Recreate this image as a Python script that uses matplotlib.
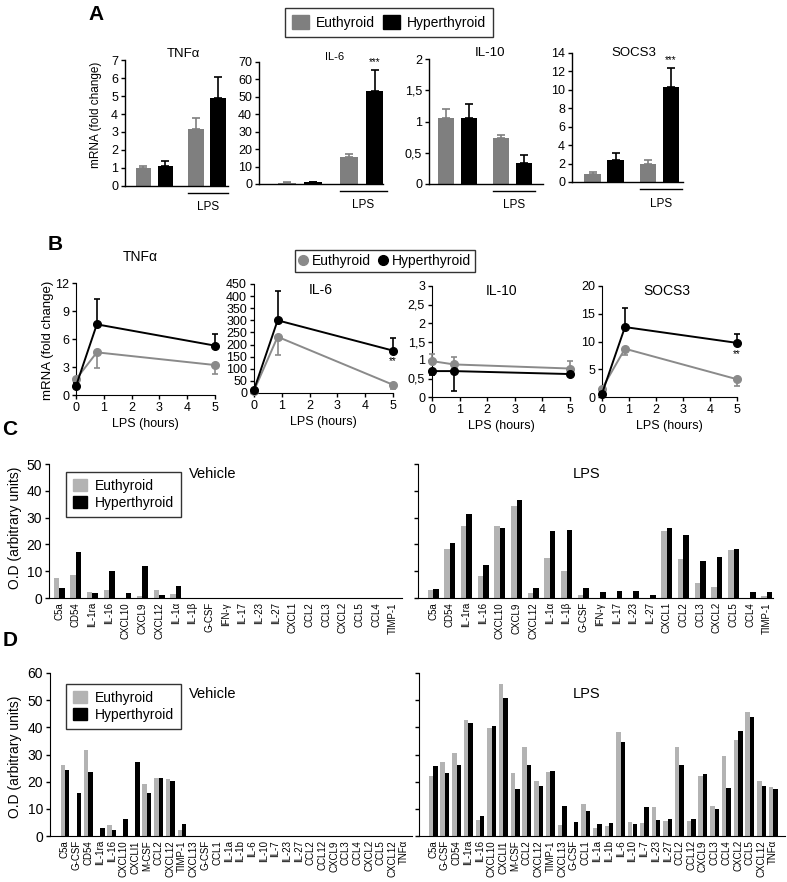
import numpy as np
import matplotlib
matplotlib.use("Agg")
import matplotlib.pyplot as plt
from matplotlib.patches import Patch
from matplotlib.lines import Line2D
from matplotlib.ticker import FuncFormatter
from matplotlib.transforms import blended_transform_factory

plt.rcParams['font.family'] = ['Liberation Sans', 'DejaVu Sans']

W, H = 787, 882
EU_A = "#7f7f7f"
EU_B = "#8a8a8a"
EU_C = "#b3b3b3"
HY = "black"

# ---------------- panel A: qPCR, [vehicle, LPS]
a_genes = ["TNFα", "IL-6", "IL-10", "SOCS3"]
a_eu_mean = [[0.98, 3.19], [0.8, 15.5], [1.06, 0.74], [0.9, 2.0]]
a_eu_err = [[0.13, 0.57], [0.3, 1.9], [0.14, 0.04], [0.23, 0.36]]
a_hy_mean = [[1.11, 4.9], [1.0, 53.3], [1.05, 0.34], [2.36, 10.3]]
a_hy_err = [[0.3, 1.14], [0.3, 12.3], [0.23, 0.13], [0.8, 2.06]]
a_stars = ["", "***", "", "***"]
a_ymax = [7, 70, 2, 14]
a_ystep = [1, 10, 0.5, 2]

# ---------------- panel B: time course after LPS (hours)
b_genes = ["TNFα", "IL-6", "IL-10", "SOCS3"]
b_time = [[0, 0.75, 5], [0, 0.85, 5], [0, 0.8, 5], [0, 0.85, 5]]
b_eu_mean = [[1.68, 4.57, 3.21], [10, 232, 34], [0.97, 0.88, 0.77], [1.5, 8.7, 3.2]]
b_eu_lo = [[0.1, 1.71, 0.96], [5, 75, 16], [0, 0, 0], [0.3, 1.2, 1.2]]
b_eu_hi = [[0, 0, 0], [0, 0, 0], [0.2, 0.2, 0.19], [0, 0, 0]]
b_hy_mean = [[0.96, 7.57, 5.29], [13, 300, 175], [0.70, 0.70, 0.62], [0.6, 12.6, 9.75]]
b_hy_lo = [[0, 0, 0], [0, 0, 0], [0.11, 0.54, 0.05], [0, 0, 0]]
b_hy_hi = [[0.3, 2.7, 1.2], [5, 120, 51], [0, 0, 0], [0.3, 3.4, 1.65]]
b_stars = ["", "**", "", "**"]
b_ymax = [12, 450, 3, 20]
b_ystep = [3, 50, 0.5, 5]

# ---------------- panel C: cytokine array
c_labels = ["C5a", "CD54", "IL-1ra", "IL-16", "CXCL10", "CXCL9", "CXCL12", "IL-1α",
            "IL-1β", "G-CSF", "IFN-γ", "IL-17", "IL-23", "IL-27", "CXCL1", "CCL2",
            "CCL3", "CXCL2", "CCL5", "CCL4", "TIMP-1"]
c_veh_eu = [7.5, 8.5, 2.2, 3.0, 0, 0.8, 3.0, 1.5, 0, 0, 0, 0, 0, 0, 0, 0, 0, 0, 0, 0, 0]
c_veh_hy = [3.7, 17.2, 1.8, 10.1, 1.8, 11.8, 1.0, 4.4, 0, 0, 0, 0, 0, 0, 0, 0, 0, 0, 0, 0, 0]
c_lps_eu = [2.9, 18.3, 27.0, 8.1, 26.8, 34.4, 1.9, 14.9, 10.1, 1.0, 0, 0, 0, 0,
            25.0, 14.4, 5.6, 4.1, 17.9, 0, 0.9]
c_lps_hy = [3.3, 20.6, 31.5, 12.5, 26.3, 36.5, 3.9, 25.0, 25.5, 3.75, 2.1, 2.6, 2.6, 1.25,
            26.3, 23.5, 13.9, 15.4, 18.4, 2.1, 2.4]

# ---------------- panel D: cytokine array
d_labels = ["C5a", "G-CSF", "CD54", "IL-1ra", "IL-16", "CXCL10", "CXCLl1", "M-CSF", "CCL2",
            "CXCL12", "TIMP-1", "CXCL13", "G-CSF", "CCL1", "IL-1a", "IL-1b", "IL-6", "IL-10",
            "IL-7", "IL-23", "IL-27", "CCL2", "CCL12", "CXCL9", "CCL3", "CCL4", "CXCL2",
            "CCL5", "CXCL12", "TNFα"]
d_veh_eu = [26.0, 0, 31.8, 0, 4.0, 0, 0, 19.0, 21.5, 21.1, 2.2] + [0] * 19
d_veh_hy = [24.2, 15.8, 23.4, 2.9, 2.2, 6.2, 27.2, 15.8, 21.5, 20.1, 4.6] + [0] * 19
d_lps_eu = [22.1, 27.4, 30.7, 42.8, 5.8, 39.8, 56.0, 23.2, 32.7, 20.2, 23.7, 3.9, 0, 11.6,
            2.8, 3.6, 38.4, 5.1, 4.7, 10.7, 5.6, 32.7, 5.4, 22.1, 11.2, 29.6, 35.3, 45.6,
            20.2, 17.9]
d_lps_hy = [25.6, 23.2, 26.0, 41.5, 7.4, 40.6, 50.9, 17.4, 26.0, 18.3, 24.1, 11.2, 5.2, 9.1,
            4.3, 4.7, 34.7, 4.6, 10.5, 5.9, 6.3, 26.3, 6.3, 22.8, 9.8, 17.7, 38.5, 43.8,
            18.3, 17.3]

fig = plt.figure(figsize=(W / 100, H / 100), dpi=100)


def px_axes(l, t, r, b):
    return fig.add_axes([l / W, 1 - b / H, (r - l) / W, (b - t) / H])


def ftext(x, y, s, **kw):
    fig.text(x / W, 1 - y / H, s, **kw)


comma = FuncFormatter(lambda v, p: f"{v:g}".replace(".", ","))

# ================= A =================
a_boxes = [(125, 60, 228, 186), (259, 62, 383, 184), (429, 59, 543, 184), (572, 53, 683, 182)]
a_xlims = [(-0.84, 3.85), (-1.08, 3.71), (-0.74, 4.23), (-0.89, 3.92)]
a_title_xy = [(183, 54), (335, 57), (490, 53), (634, 53)]
a_title_fs = [9.5, 8, 9.5, 9.5]
a_pos = [0, 1, 2.4, 3.4]
bw = 0.72
for i, g in enumerate(a_genes):
    ax = px_axes(*a_boxes[i])
    means = [a_eu_mean[i][0], a_hy_mean[i][0], a_eu_mean[i][1], a_hy_mean[i][1]]
    errs = [a_eu_err[i][0], a_hy_err[i][0], a_eu_err[i][1], a_hy_err[i][1]]
    cols = [EU_A, HY, EU_A, HY]
    ax.bar(a_pos, means, bw, color=cols)
    for x, m, e, c in zip(a_pos, means, errs, cols):
        ax.errorbar(x, m, yerr=[[0], [e]], fmt='none', ecolor=c, capsize=3, elinewidth=1.2,
                    capthick=1.2)
    if a_stars[i]:
        ax.text(a_pos[3], a_hy_mean[i][1] + a_hy_err[i][1] + a_ymax[i] * 0.02, a_stars[i],
                ha='center', va='bottom', fontsize=7)
    ax.set_xlim(*a_xlims[i])
    ax.set_ylim(0, a_ymax[i])
    ax.set_yticks(np.arange(0, a_ymax[i] + a_ystep[i] / 2, a_ystep[i]))
    ax.yaxis.set_major_formatter(comma)
    ax.set_xticks([])
    for s in ['top', 'right']:
        ax.spines[s].set_visible(False)
    ax.spines['left'].set_linewidth(1.0)
    ax.spines['bottom'].set_linewidth(1.0)
    ax.tick_params(axis='y', labelsize=9, length=3, width=1, pad=2)
    tr = blended_transform_factory(ax.transData, ax.transAxes)
    ax.plot([a_pos[2] - bw / 2, a_pos[3] + bw / 2 + 0.1], [-0.055, -0.055], color='black',
            lw=1, transform=tr, clip_on=False)
    ax.text((a_pos[2] + a_pos[3]) / 2 + 0.05, -0.17, "LPS", transform=tr, ha='center',
            va='center', fontsize=8.5)
    ftext(*a_title_xy[i], g, ha='center', va='center', fontsize=a_title_fs[i])

ftext(96, 115, "mRNA (fold change)", rotation=90, ha='center', va='center', fontsize=8.5)
ftext(96, 14, "A", ha='center', va='center', fontsize=15, fontweight='bold')
legA = fig.legend(handles=[Patch(color=EU_A, label="Euthyroid"), Patch(color=HY, label="Hyperthyroid")],
                  loc='upper left', bbox_to_anchor=(278 / W, 1 - 1 / H), ncol=2, fontsize=10,
                  frameon=True, fancybox=False, edgecolor='black', handlelength=1.2,
                  handleheight=1.2, handletextpad=0.5, columnspacing=0.6, borderpad=0.5)
legA.get_frame().set_linewidth(1.0)

# ================= B =================
b_boxes = [(76, 283, 215, 395), (254, 284, 393, 393), (432, 286, 570, 397), (602, 286, 737, 397)]
b_title_xy = [(140, 257), (321, 290), (502, 291), (667, 291)]
for i, g in enumerate(b_genes):
    ax = px_axes(*b_boxes[i])
    t = b_time[i]
    ax.errorbar(t, b_eu_mean[i], yerr=[b_eu_lo[i], b_eu_hi[i]], color=EU_B, marker='o',
                markersize=5.5, lw=1.4, capsize=2.5, elinewidth=1.2, capthick=1.2,
                clip_on=False, zorder=3)
    ax.errorbar(t, b_hy_mean[i], yerr=[b_hy_lo[i], b_hy_hi[i]], color=HY, marker='o',
                markersize=5.5, lw=1.4, capsize=2.5, elinewidth=1.2, capthick=1.2,
                clip_on=False, zorder=4)
    if b_stars[i]:
        ax.text(t[2], b_hy_mean[i][2] - b_ymax[i] * 0.1, b_stars[i], ha='center', va='center',
                fontsize=7)
    ax.set_xlim(0, 5)
    ax.set_ylim(0, b_ymax[i])
    ax.set_xticks(range(6))
    ax.set_yticks(np.arange(0, b_ymax[i] + b_ystep[i] / 2, b_ystep[i]))
    ax.yaxis.set_major_formatter(comma)
    for s in ['top', 'right']:
        ax.spines[s].set_visible(False)
    ax.tick_params(labelsize=9, length=3, width=1, pad=2)
    ax.set_xlabel("LPS (hours)", fontsize=9, labelpad=3)
    ftext(*b_title_xy[i], g, ha='center', va='center', fontsize=10)

ftext(48, 340, "mRNA (fold change)", rotation=90, ha='center', va='center', fontsize=9.5)
ftext(55, 245, "B", ha='center', va='center', fontsize=15, fontweight='bold')
legB = fig.legend(handles=[Line2D([], [], marker='o', ls='none', color=EU_B, markersize=7, label="Euthyroid"),
                           Line2D([], [], marker='o', ls='none', color=HY, markersize=7, label="Hyperthyroid")],
                  loc='upper left', bbox_to_anchor=(288 / W, 1 - 243 / H), ncol=2, fontsize=10,
                  frameon=True, fancybox=False, edgecolor='black', handlelength=0.6,
                  handletextpad=0.3, columnspacing=0.6, borderpad=0.3)
legB.get_frame().set_linewidth(1.0)


# ================= C & D =================
def array_panel(box, xlim, labels, eu, hy, ymax, width, show_labels):
    ax = px_axes(*box)
    x = np.arange(len(labels))
    ax.bar(x - width / 2, eu, width, color=EU_C)
    ax.bar(x + width / 2, hy, width, color=HY)
    ax.set_xlim(*xlim)
    ax.set_ylim(0, ymax)
    ax.set_xticks(x)
    ax.set_xticklabels(labels, rotation=90, fontsize=7)
    ax.set_yticks(np.arange(0, ymax + 1, 10))
    if not show_labels:
        ax.set_yticklabels([])
    for s in ['top', 'right']:
        ax.spines[s].set_visible(False)
    ax.tick_params(axis='x', length=0, pad=3)
    ax.tick_params(axis='y', labelsize=10, length=3, width=1, pad=2)
    return ax


axC1 = array_panel((49, 464, 402, 598), (-0.6, 20.55), c_labels, c_veh_eu, c_veh_hy, 50, 0.33, True)
axC2 = array_panel((418, 464, 773, 598), (-0.9, 20.36), c_labels, c_lps_eu, c_lps_hy, 50, 0.33, False)
axD1 = array_panel((50, 673, 412, 836), (-1.28, 29.66), d_labels, d_veh_eu, d_veh_hy, 60, 0.38, True)
axD2 = array_panel((419, 673, 785, 836), (-1.2, 30.0), d_labels, d_lps_eu, d_lps_hy, 60, 0.38, False)

for y_leg, y_txt, y_lab, letter, y_letter in [(465, 474, 528, "C", 430), (677, 694, 757, "D", 641)]:
    leg = fig.legend(handles=[Patch(color=EU_C, label="Euthyroid"), Patch(color=HY, label="Hyperthyroid")],
                     loc='upper left', bbox_to_anchor=(59 / W, 1 - y_leg / H), fontsize=10,
                     frameon=True, fancybox=False, edgecolor='black', handlelength=1.0,
                     handleheight=1.0, handletextpad=0.6, labelspacing=0.2, borderpad=0.5)
    leg.get_frame().set_linewidth(1.0)
    ftext(213, y_txt, "Vehicle", ha='center', va='center', fontsize=10.5)
    ftext(587, y_txt, "LPS", ha='center', va='center', fontsize=10.5)
    ftext(15, y_lab, "O.D (arbitrary units)", rotation=90, ha='center', va='center', fontsize=10)
    ftext(10, y_letter, letter, ha='center', va='center', fontsize=15, fontweight='bold')

fig.savefig("out.png", dpi=100)
